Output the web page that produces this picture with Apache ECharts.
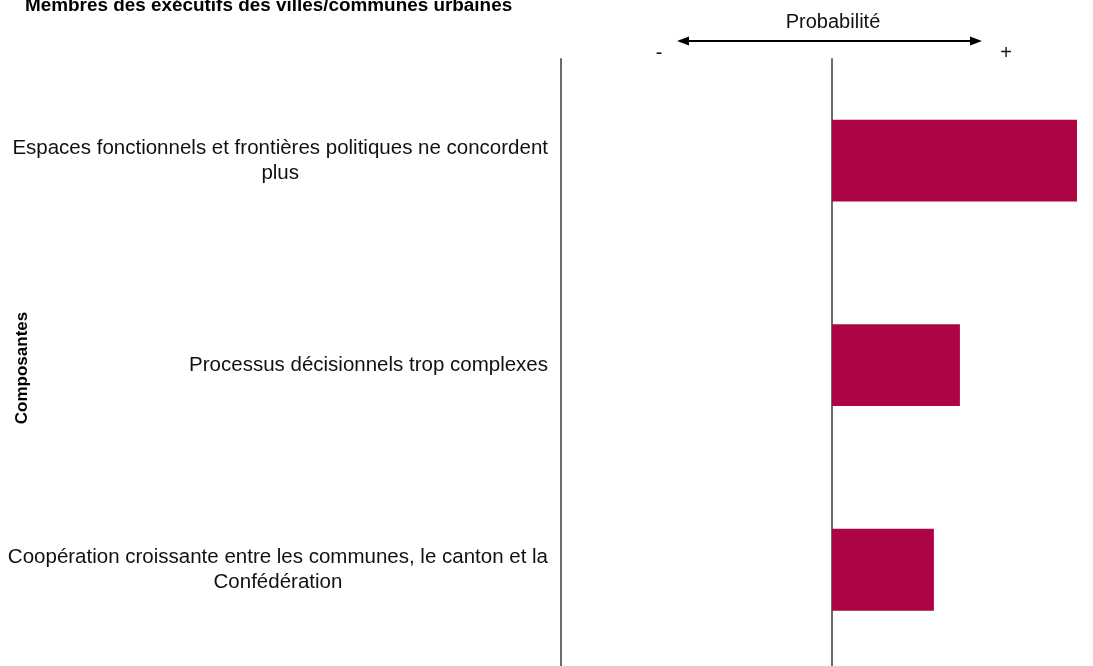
<!DOCTYPE html>
<html>
<head>
<meta charset="utf-8">
<script src="https://cdn.jsdelivr.net/npm/echarts@6/dist/echarts.min.js"></script>
<style>
html,body{margin:0;padding:0;background:#fff;overflow:hidden;width:1093px;height:666px;}
#chart{width:1103px;height:672px;}
</style>
</head>
<body>
<div id="chart"></div>
<script>
var titleText = 'Membres des exécutifs des villes/communes urbaines';
var axisTitle = 'Probabilité';
var yAxisTitle = 'Composantes';
var categories = [
  'Espaces fonctionnels et frontières politiques ne concordent\nplus',
  'Processus décisionnels trop complexes',
  'Coopération croissante entre les communes, le canton et la\nConfédération'
];
var values = [0.904, 0.472, 0.376];
var xMin = -1, xMax = 1, xInterval = 1;

var FONT = '"Liberation Sans", Arial, Helvetica, sans-serif';
var chart = echarts.init(document.getElementById('chart'), null, {renderer: 'canvas'});

var option = {
  backgroundColor: '#ffffff',
  animation: false,
  grid: {left: 561, right: 0, top: 58.25, bottom: 0, containLabel: false},
  xAxis: {
    type: 'value', min: xMin, max: xMax, interval: xInterval,
    axisLabel: {show: false}, axisTick: {show: false}, axisLine: {show: false},
    splitLine: {show: true, lineStyle: {color: '#3a3a3a', width: 1.5}}
  },
  yAxis: {
    type: 'category', inverse: true, data: categories,
    axisTick: {show: false},
    axisLine: {show: false},
    axisLabel: {
      margin: 13, align: 'right',
      formatter: function (v) {
        return v.split('\n').map(function (s) { return '{c|' + s + '}'; }).join('\n');
      },
      rich: {c: {align: 'center', fontSize: 20.5, lineHeight: 25, fontFamily: FONT, color: '#111'}}
    }
  },
  series: [{
    type: 'bar', data: values, barWidth: '40%',
    itemStyle: {color: '#AD0446'}
  }],
  graphic: [
    {type: 'text', left: 25, top: -4, style: {text: titleText, font: 'bold 18.9px ' + FONT, fill: '#000'}},
    {type: 'text', x: 833, y: 22.5, style: {text: axisTitle, font: '20px ' + FONT, fill: '#111', align: 'center', verticalAlign: 'middle'}},
    {type: 'text', x: 659, y: 53, style: {text: '-', font: '20px ' + FONT, fill: '#111', align: 'center', verticalAlign: 'middle'}},
    {type: 'text', x: 1006, y: 53, style: {text: '+', font: '20px ' + FONT, fill: '#111', align: 'center', verticalAlign: 'middle'}},
    {type: 'line', shape: {x1: 684, y1: 41, x2: 975, y2: 41}, style: {stroke: '#000', lineWidth: 2}},
    {type: 'polygon', shape: {points: [[677, 41], [689, 36.5], [689, 45.5]]}, style: {fill: '#000'}},
    {type: 'polygon', shape: {points: [[982, 41], [970, 36.5], [970, 45.5]]}, style: {fill: '#000'}},
    {type: 'text', x: 22, y: 368, rotation: Math.PI / 2, style: {text: yAxisTitle, font: 'bold 17px ' + FONT, fill: '#000', align: 'center', verticalAlign: 'middle'}}
  ]
};
chart.setOption(option);
</script>
</body>
</html>
